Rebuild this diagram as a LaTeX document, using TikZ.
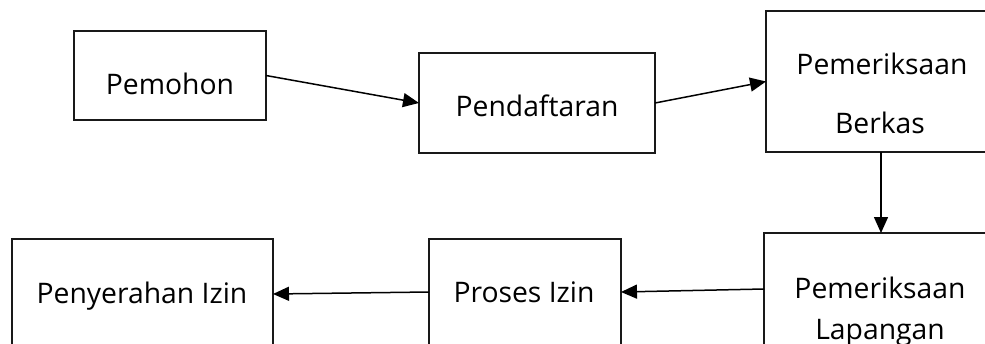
\documentclass[tikz,border=0pt]{standalone}
\usepackage{fontspec}
\setmainfont{Open Sans}
\usetikzlibrary{arrows.meta}
\begin{document}
\begin{tikzpicture}[x=1pt,y=-1pt,
  box/.style={draw=black!90,line width=1.5pt,rectangle,inner sep=0pt,outer sep=0pt},
  lbl/.style={anchor=base,inner sep=0pt,font=\fontsize{28.3}{34}\selectfont},
  flow/.style={draw=black,line width=1.5pt,-{Triangle[length=16pt,width=14pt]}}]
  \clip (0,0) rectangle (985,343);
  \fill[white] (0,0) rectangle (985,343);

  % top row
  \node[box,minimum width=192pt,minimum height=89pt] (pem) at (170,75.5) {};
  \node[box,minimum width=236pt,minimum height=100pt] (daf) at (537,103) {};
  \node[box,minimum width=230pt,minimum height=141pt] (ber) at (881,81.5) {};

  % bottom row
  \node[box,minimum width=234pt,minimum height=112pt] (lap) at (881,289) {};
  \node[box,minimum width=192pt,minimum height=106pt] (pro) at (525,292) {};
  \node[box,minimum width=261pt,minimum height=110pt] (pen) at (142.5,294) {};

  % labels
  \node[lbl] (tpem) at (170,94) {Pemohon};
  \node[lbl] (tdaf) at (537,116) {Pendaftaran};
  \node[lbl] (tber1) at (882,74) {Pemeriksaan};
  \node[lbl] (tber2) at (880,133) {Berkas};
  \node[lbl] (tlap1) at (880,298) {Pemeriksaan};
  \node[lbl] (tlap2) at (880,339) {Lapangan};
  \node[lbl] (tpro) at (524,302) {Proses Izin};
  \node[lbl] (tpen) at (142,303) {Penyerahan Izin};

  % connectors
  \draw[flow] (pem.east) -- (daf.west);
  \draw[flow] (daf.east) -- (ber.west);
  \draw[flow] (ber.south) -- (lap.north);
  \draw[flow] (lap.west) -- (pro.east);
  \draw[flow] (pro.west) -- (pen.east);
\end{tikzpicture}
\end{document}
